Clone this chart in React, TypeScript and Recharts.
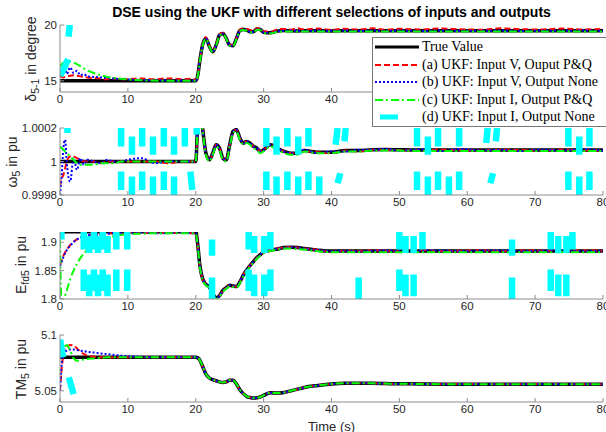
import React from 'react'
import { LineChart, Line, XAxis, YAxis } from 'recharts'

// shared time base (s)
const time = [
  0, 0.25, 0.5, 0.75, 1, 1.5, 2, 2.5, 3, 3.5, 4,
  5, 6, 7, 8, 9, 10, 12, 14, 16, 18, 19.5,
  20, 20.3, 20.6, 21, 21.5, 22, 22.5, 23, 23.5, 24, 24.5,
  25, 25.5, 26, 26.5, 27, 27.5, 28, 28.5, 29, 29.5, 30,
  31, 32, 33, 34, 35, 36, 38, 40, 42, 44, 46,
  48, 50, 53, 56, 59, 62, 65, 68, 71, 74, 77, 80,
]

const seriesNames = [
  'True Value',
  '(a) UKF: Input V, Ouput P&Q',
  '(b) UKF: Input V, Output None',
  '(c) UKF: Input I, Output P&Q',
  '(d) UKF: Input I, Output None',
]

const xTicks = [0, 10, 20, 30, 40, 50, 60, 70, 80]

// delta 5-1 (degree)
const deltaTrue = [
  15, 15, 15, 15, 15, 15, 15, 15, 15, 15, 15,
  15, 15, 15, 15, 15, 15, 15, 15, 15, 15, 15,
  15, 15.5, 16.8, 18.2, 18.8, 18.1, 17.6, 18.2, 19.1, 19.25, 18.8,
  18.2, 18.15, 18.8, 19.5, 19.6, 19.55, 19.4, 19.4, 19.65, 19.6, 19.35,
  19.3, 19.45, 19.5, 19.48, 19.47, 19.48, 19.48, 19.47, 19.48, 19.48, 19.48,
  19.48, 19.48, 19.48, 19.48, 19.48, 19.48, 19.48, 19.48, 19.48, 19.48, 19.48, 19.48,
]
const deltaA = [
  15.5, 15.35, 15.3, 15.35, 15.4, 15.45, 15.5, 15.45, 15.4, 15.35, 15.3,
  15.25, 15.2, 15.15, 15.2, 15.12, 15.18, 15.2, 15.15, 15.22, 15.15, 15.18,
  15.1, 15.5, 16.8, 18.2, 18.9, 18.15, 17.6, 18.25, 19.15, 19.3, 18.8,
  18.25, 18.2, 18.85, 19.55, 19.7, 19.65, 19.55, 19.5, 19.7, 19.65, 19.45,
  19.4, 19.6, 19.65, 19.58, 19.7, 19.6, 19.68, 19.58, 19.66, 19.6, 19.7,
  19.58, 19.66, 19.6, 19.68, 19.62, 19.58, 19.7, 19.62, 19.6, 19.68, 19.6, 19.65,
]
const deltaB = [
  15.6, 15.4, 15.8, 16.2, 15.6, 16.2, 15.7, 15.9, 15.5, 15.6, 15.4,
  15.35, 15.3, 15.25, 15.2, 15.15, 15.12, 15.08, 15.05, 15.04, 15.03, 15.02,
  15.02, 15.5, 16.8, 18.2, 18.8, 18.1, 17.6, 18.2, 19.1, 19.25, 18.8,
  18.2, 18.15, 18.8, 19.5, 19.6, 19.55, 19.4, 19.4, 19.62, 19.6, 19.35,
  19.3, 19.45, 19.48, 19.5, 19.48, 19.47, 19.5, 19.48, 19.5, 19.47, 19.5,
  19.48, 19.5, 19.47, 19.5, 19.48, 19.49, 19.5, 19.47, 19.5, 19.48, 19.5, 19.48,
]
const deltaC = [
  16.3, 16.5, 16.62, 16.7, 16.75, 16.75, 16.65, 16.5, 16.32, 16.12, 15.95,
  15.7, 15.5, 15.35, 15.25, 15.18, 15.12, 15.05, 15.02, 15.0, 15.0, 15.0,
  15.0, 15.45, 16.7, 18.1, 18.75, 18.1, 17.55, 18.15, 19.05, 19.2, 18.75,
  18.15, 18.1, 18.75, 19.45, 19.55, 19.5, 19.35, 19.35, 19.58, 19.55, 19.3,
  19.25, 19.38, 19.42, 19.42, 19.41, 19.42, 19.42, 19.41, 19.42, 19.42, 19.42,
  19.42, 19.42, 19.42, 19.42, 19.42, 19.42, 19.42, 19.42, 19.42, 19.42, 19.42, 19.42,
]
// (d) only shows where it crosses the axes: [t1, v1, t2, v2]
const deltaD = [
  [0.05, 15.45, 1.2, 16.95],
  [1.45, 20.0, 1.25, 18.95],
]

// omega 5 (pu)
const omegaTrue = [
  1, 1, 1, 1, 1, 1, 1, 1, 1, 1, 1,
  1, 1, 1, 1, 1, 1, 1, 1, 1, 1, 1,
  1, 1.00024, 1.00032, 1.0002, 1.00005, 1.00001, 1.00005, 1.0001, 1.00008, 1.00002, 1.00001,
  1.0001, 1.00018, 1.00019, 1.00014, 1.00011, 1.00012, 1.00011, 1.00009, 1.00008, 1.00006, 1.00007,
  1.0001, 1.00008, 1.00006, 1.00005, 1.00005, 1.000065, 1.000055, 1.000055, 1.000065, 1.000065, 1.00007,
  1.000072, 1.00007, 1.000068, 1.000068, 1.000068, 1.000068, 1.000068, 1.000068, 1.000068, 1.000068, 1.000068, 1.000068,
]
const omegaA = [
  0.99985, 0.9999, 0.99992, 0.99996, 1.0, 1.00003, 1.00003, 1.00002, 1.00001, 1.0, 1.0,
  1.0, 0.99999, 1.0, 1.0, 1.0, 1.0, 1.0, 1.0, 0.99999, 1.0, 1.0,
  1, 1.00024, 1.00032, 1.0002, 1.00005, 1.00001, 1.00005, 1.0001, 1.00008, 1.00002, 1.00001,
  1.0001, 1.00018, 1.00019, 1.00014, 1.00011, 1.00012, 1.00011, 1.00009, 1.00008, 1.00006, 1.00007,
  1.0001, 1.00008, 1.00006, 1.00005, 1.00005, 1.00006, 1.000055, 1.00005, 1.000065, 1.00006, 1.00007,
  1.00007, 1.000068, 1.000066, 1.00007, 1.000068, 1.000066, 1.00007, 1.000068, 1.000066, 1.00007, 1.000068, 1.000066,
]
const omegaB = [
  0.9998, 0.99992, 1.00008, 1.00013, 0.99999, 0.99988, 1.00002, 0.99995, 1.00002, 0.99998, 1.00001,
  1.0, 0.99999, 1.00001, 1.0, 1.0, 1.00001, 1.00002, 0.99999, 1.0, 1.0, 1.0,
  1, 1.00024, 1.00032, 1.0002, 1.00005, 1.00001, 1.00005, 1.0001, 1.00008, 1.00002, 1.00001,
  1.0001, 1.00018, 1.00019, 1.00014, 1.00011, 1.00012, 1.00011, 1.00009, 1.00008, 1.00006, 1.00007,
  1.0001, 1.00008, 1.00006, 1.00005, 1.00005, 1.00007, 1.00005, 1.00006, 1.00006, 1.00007, 1.00007,
  1.000075, 1.000065, 1.000072, 1.000063, 1.000074, 1.000066, 1.00007, 1.000062, 1.000072, 1.000066, 1.000073, 1.000065,
]
const omegaC = [
  1.00009, 1.00008, 1.00007, 1.00006, 1.00005, 1.00003, 1.00001, 0.99999, 0.99998, 0.99998, 0.99998,
  0.99998, 0.99999, 0.99999, 0.99999, 1.0, 1.0, 1.0, 1.0, 1.0, 1.0, 1.0,
  1, 1.00023, 1.00031, 1.00019, 1.00004, 1.0, 1.00004, 1.00009, 1.00007, 1.00001, 1.0,
  1.00009, 1.00017, 1.00018, 1.00013, 1.0001, 1.00011, 1.0001, 1.00008, 1.00007, 1.00005, 1.00006,
  1.00009, 1.00007, 1.00005, 1.00004, 1.00004, 1.00006, 1.00005, 1.00005, 1.00006, 1.00006, 1.000065,
  1.000066, 1.000065, 1.000063, 1.000063, 1.000063, 1.000063, 1.000063, 1.000063, 1.000063, 1.000063, 1.000063, 1.000063,
]
const omegaD = [
  [1.1, 1.0002, 1.1, 1.00017],
  [9.0, 1.0002, 9.0, 1.00009], [9.0, 0.99994, 9.0, 0.99983],
  [10.6, 1.00015, 10.6, 1.00004], [10.6, 0.99991, 10.6, 0.9998],
  [12.1, 1.0002, 12.1, 1.00009], [12.1, 0.99994, 12.1, 0.99983],
  [13.7, 1.00015, 13.7, 1.00004], [13.7, 0.99991, 13.7, 0.9998],
  [15.3, 1.0002, 15.3, 1.00009], [15.3, 0.99994, 15.3, 0.99983],
  [16.8, 1.00015, 16.8, 1.00004], [16.8, 0.99991, 16.8, 0.9998],
  [18.4, 1.0002, 18.4, 1.00009],
  [19.2, 0.99994, 19.5, 0.99983],
  [20.1, 1.0002, 20.2, 1.00016],
  [30.4, 1.0002, 30.4, 1.00009], [30.4, 0.99994, 30.4, 0.99983],
  [31.9, 1.00015, 31.9, 1.00004], [31.9, 0.99991, 31.9, 0.9998],
  [33.5, 1.0002, 33.5, 1.00009], [33.5, 0.99994, 33.5, 0.99983],
  [35.1, 1.00015, 35.1, 1.00004], [35.1, 0.99991, 35.1, 0.9998],
  [36.6, 1.0002, 36.6, 1.00009], [36.6, 0.99994, 36.6, 0.99983],
  [38.2, 0.99991, 38.2, 0.9998],
  [40.9, 1.0002, 40.6, 1.0001], [41.3, 0.99993, 40.9, 0.99987],
  [42.1, 1.0002, 41.9, 1.00012],
  [52.6, 1.0002, 52.6, 1.00009], [52.6, 0.99994, 52.6, 0.99983],
  [54.2, 1.00015, 54.2, 1.00004], [54.2, 0.99991, 54.2, 0.9998],
  [55.7, 1.0002, 55.7, 1.00009], [55.7, 0.99994, 55.7, 0.99983],
  [57.3, 0.99991, 57.3, 0.9998],
  [58.8, 1.0002, 58.8, 1.00009], [58.8, 0.99994, 58.8, 0.99983],
  [63.0, 1.0002, 62.8, 1.00011], [63.8, 0.99993, 63.4, 0.99987],
  [64.4, 1.0002, 64.2, 1.00012],
  [74.9, 1.0002, 74.9, 1.00009], [74.9, 0.99994, 74.9, 0.99983],
  [76.5, 1.00015, 76.5, 1.00004], [76.5, 0.99991, 76.5, 0.9998],
  [78.0, 1.0002, 78.0, 1.00009], [78.0, 0.99994, 78.0, 0.99983],
]

// Efd5 (pu)
const efdTrue = [
  1.9185, 1.9185, 1.9185, 1.9185, 1.9185, 1.9185, 1.9185, 1.9185, 1.9185, 1.9185, 1.9185,
  1.9185, 1.9185, 1.9185, 1.9185, 1.9185, 1.9185, 1.9185, 1.9185, 1.9185, 1.9185, 1.9185,
  1.9185, 1.895, 1.86, 1.836, 1.826, 1.821, 1.81, 1.802, 1.806, 1.815, 1.82,
  1.824, 1.823, 1.822, 1.83, 1.842, 1.851, 1.859, 1.866, 1.873, 1.878, 1.883,
  1.886, 1.888, 1.8905, 1.891, 1.8905, 1.889, 1.886, 1.8845, 1.8845, 1.8845, 1.8845,
  1.8845, 1.8845, 1.8845, 1.8845, 1.8845, 1.8845, 1.8845, 1.8845, 1.8845, 1.8845, 1.8845, 1.8845,
]
const efdA = [
  1.86, 1.868, 1.876, 1.882, 1.887, 1.895, 1.901, 1.905, 1.908, 1.91, 1.912,
  1.913, 1.914, 1.915, 1.916, 1.915, 1.917, 1.916, 1.917, 1.916, 1.917, 1.916,
  1.916, 1.894, 1.859, 1.835, 1.826, 1.82, 1.81, 1.801, 1.806, 1.815, 1.82,
  1.824, 1.823, 1.822, 1.83, 1.843, 1.852, 1.859, 1.866, 1.873, 1.878, 1.883,
  1.887, 1.889, 1.891, 1.8915, 1.8905, 1.889, 1.8865, 1.8835, 1.885, 1.8845, 1.8855,
  1.885, 1.8845, 1.8855, 1.8845, 1.885, 1.8855, 1.8845, 1.8855, 1.885, 1.8845, 1.8855, 1.885,
]
const efdB = [
  1.858, 1.866, 1.874, 1.881, 1.886, 1.894, 1.9, 1.905, 1.908, 1.91, 1.912,
  1.913, 1.914, 1.915, 1.916, 1.916, 1.915, 1.917, 1.916, 1.916, 1.917, 1.916,
  1.916, 1.895, 1.86, 1.836, 1.826, 1.821, 1.81, 1.802, 1.806, 1.815, 1.82,
  1.824, 1.823, 1.822, 1.83, 1.842, 1.851, 1.859, 1.866, 1.873, 1.878, 1.884,
  1.8865, 1.8885, 1.89, 1.891, 1.8905, 1.8885, 1.886, 1.8845, 1.885, 1.884, 1.885,
  1.8855, 1.8845, 1.885, 1.8855, 1.8845, 1.885, 1.8855, 1.8845, 1.885, 1.8855, 1.8845, 1.885,
]
const efdC = [
  1.905, 1.79, 1.795, 1.806, 1.815, 1.835, 1.85, 1.862, 1.872, 1.88, 1.886,
  1.896, 1.903, 1.908, 1.911, 1.913, 1.914, 1.915, 1.916, 1.916, 1.916, 1.916,
  1.915, 1.893, 1.857, 1.834, 1.824, 1.819, 1.808, 1.8, 1.804, 1.813, 1.818,
  1.822, 1.821, 1.82, 1.828, 1.84, 1.849, 1.857, 1.864, 1.871, 1.876, 1.881,
  1.885, 1.887, 1.889, 1.889, 1.888, 1.887, 1.884, 1.8825, 1.8825, 1.8825, 1.8825,
  1.8825, 1.8825, 1.8825, 1.8825, 1.8825, 1.8825, 1.8825, 1.8825, 1.8825, 1.8825, 1.8825, 1.8825,
]
const efdD = [
  [0.2, 1.918, 0.2, 1.905],
  [3.5, 1.918, 3.5, 1.887], [3.5, 1.852, 3.5, 1.814],
  [4.3, 1.911, 4.3, 1.881], [4.3, 1.843, 4.3, 1.805],
  [5.0, 1.918, 5.0, 1.887], [5.0, 1.852, 5.0, 1.814],
  [5.6, 1.911, 5.6, 1.881], [5.6, 1.843, 5.6, 1.805],
  [6.3, 1.918, 6.3, 1.887], [6.3, 1.852, 6.3, 1.814],
  [7.0, 1.911, 7.0, 1.881], [7.0, 1.843, 7.0, 1.805],
  [8.3, 1.918, 8.3, 1.887], [8.3, 1.852, 8.3, 1.814],
  [9.9, 1.918, 9.9, 1.887], [9.9, 1.852, 9.9, 1.814],
  [22.4, 1.905, 22.4, 1.876], [22.4, 1.838, 22.4, 1.8],
  [27.8, 1.918, 27.8, 1.887], [27.8, 1.852, 27.8, 1.814],
  [28.6, 1.911, 28.6, 1.881], [28.6, 1.843, 28.6, 1.805],
  [30.1, 1.911, 30.1, 1.881], [30.1, 1.843, 30.1, 1.805],
  [31.0, 1.918, 31.0, 1.887], [31.0, 1.852, 31.0, 1.814],
  [44.0, 1.838, 44.0, 1.8],
  [50.0, 1.918, 50.0, 1.887], [50.0, 1.852, 50.0, 1.814],
  [50.9, 1.911, 50.9, 1.881], [50.9, 1.843, 50.9, 1.805],
  [52.1, 1.911, 52.1, 1.881], [52.1, 1.843, 52.1, 1.805],
  [53.4, 1.918, 53.4, 1.887],
  [66.6, 1.905, 66.6, 1.876], [66.6, 1.838, 66.6, 1.8],
  [72.3, 1.918, 72.3, 1.887], [72.3, 1.852, 72.3, 1.814],
  [73.4, 1.911, 73.4, 1.881], [73.4, 1.843, 73.4, 1.805],
  [74.6, 1.911, 74.6, 1.881], [74.6, 1.843, 74.6, 1.805],
  [75.5, 1.918, 75.5, 1.887],
]

// TM5 (pu)
const tmTrue = [
  5.08, 5.08, 5.08, 5.08, 5.08, 5.08, 5.08, 5.08, 5.08, 5.08, 5.08,
  5.08, 5.08, 5.08, 5.08, 5.08, 5.08, 5.08, 5.08, 5.08, 5.08, 5.08,
  5.08, 5.0795, 5.0775, 5.072, 5.065, 5.0615, 5.06, 5.059, 5.058, 5.0575, 5.058,
  5.0595, 5.0595, 5.056, 5.051, 5.0475, 5.045, 5.044, 5.0435, 5.0437, 5.0445, 5.046,
  5.0482, 5.048, 5.0485, 5.05, 5.0515, 5.053, 5.0548, 5.0562, 5.0568, 5.0568, 5.0567,
  5.0565, 5.0563, 5.0562, 5.056, 5.056, 5.056, 5.056, 5.056, 5.056, 5.056, 5.056, 5.056,
]
const tmA = [
  5.05, 5.07, 5.082, 5.087, 5.089, 5.091, 5.0905, 5.088, 5.085, 5.083, 5.0815,
  5.0805, 5.08, 5.08, 5.0798, 5.08, 5.08, 5.0802, 5.08, 5.08, 5.08, 5.08,
  5.08, 5.0795, 5.0775, 5.072, 5.065, 5.0615, 5.06, 5.059, 5.058, 5.0575, 5.058,
  5.0595, 5.0595, 5.056, 5.051, 5.0475, 5.045, 5.044, 5.0435, 5.0437, 5.0445, 5.046,
  5.0482, 5.048, 5.0485, 5.05, 5.0515, 5.053, 5.0548, 5.0562, 5.0568, 5.0568, 5.0567,
  5.0565, 5.0562, 5.0563, 5.056, 5.0561, 5.056, 5.0559, 5.056, 5.0561, 5.056, 5.0559, 5.056,
]
const tmB = [
  5.05, 5.074, 5.082, 5.085, 5.086, 5.087, 5.087, 5.0865, 5.086, 5.0855, 5.085,
  5.0843, 5.0835, 5.0828, 5.0822, 5.0815, 5.081, 5.0805, 5.08, 5.08, 5.08, 5.08,
  5.08, 5.0795, 5.0775, 5.072, 5.065, 5.0615, 5.06, 5.059, 5.058, 5.0575, 5.058,
  5.0595, 5.0595, 5.056, 5.051, 5.0475, 5.045, 5.044, 5.0435, 5.0437, 5.0445, 5.046,
  5.0482, 5.048, 5.0485, 5.05, 5.0515, 5.053, 5.0548, 5.0562, 5.0568, 5.0568, 5.0567,
  5.0565, 5.0563, 5.0562, 5.056, 5.056, 5.056, 5.056, 5.056, 5.056, 5.056, 5.056, 5.056,
]
const tmC = [
  5.09, 5.083, 5.086, 5.09, 5.091, 5.086, 5.079, 5.077, 5.0775, 5.078, 5.0785,
  5.079, 5.0795, 5.08, 5.08, 5.08, 5.08, 5.08, 5.08, 5.08, 5.08, 5.08,
  5.08, 5.0795, 5.0775, 5.072, 5.065, 5.0615, 5.06, 5.059, 5.058, 5.0575, 5.058,
  5.0595, 5.0595, 5.056, 5.051, 5.0475, 5.045, 5.044, 5.0435, 5.0437, 5.0445, 5.046,
  5.0482, 5.048, 5.0485, 5.05, 5.0515, 5.053, 5.0548, 5.0562, 5.0568, 5.0568, 5.0567,
  5.0565, 5.0563, 5.0562, 5.056, 5.056, 5.056, 5.056, 5.056, 5.056, 5.056, 5.056, 5.056,
]
const tmD = [
  [0.0, 5.096, 0.45, 5.08],
  [1.3, 5.062, 2.0, 5.047],
]

const AXIS = '#8c8c8c'
const TEXT = '#262626'
const SANS = '"Liberation Sans", Arial, sans-serif'
const SERIF = '"Liberation Serif", "Times New Roman", serif'

const styles = [
  { stroke: '#000000', strokeWidth: 3.5 },
  { stroke: '#ff0000', strokeWidth: 2, strokeDasharray: '6 3' },
  { stroke: '#0000ff', strokeWidth: 2, strokeDasharray: '2 2' },
  { stroke: '#00ff00', strokeWidth: 2, strokeDasharray: '8 3 2 3' },
  { stroke: '#00ffff', strokeWidth: 6.5 },
]

const segPoints = (segs: number[][]) =>
  segs.flatMap(([t1, v1, t2, v2]) => [
    { t: t1, v: v1 },
    { t: t2, v: v2 },
    { t: t2, v: null },
  ])

const noLabel = () => <g />

function Panel({ top, plotTop, series, cyan, domain, yTicks, xLabel, xLabelMax = 80 }: any) {
  const rows = time.map((t, i) => ({ t, s0: series[0][i], s1: series[1][i], s2: series[2][i], s3: series[3][i] }))
  const axisH = xLabel ? 30 : 20
  const tick = { fontSize: 11.5, fill: TEXT, fontFamily: SANS }
  return (
    <div style={{ position: 'absolute', left: 0, top }}>
      <LineChart width={606} height={plotTop + 67 + axisH} data={rows} margin={{ top: plotTop, right: 3, bottom: 0, left: 0 }}>
        <XAxis
          dataKey="t"
          type="number"
          domain={[0, 80]}
          ticks={xTicks}
          interval={0}
          allowDataOverflow
          stroke={AXIS}
          tick={tick}
          tickFormatter={(v: number) => (v > xLabelMax ? '' : String(v))}
          tickSize={-4}
          tickMargin={7}
          height={axisH}
          label={xLabel ? { value: xLabel, position: 'insideBottom', offset: 1, fill: TEXT, fontSize: 13, fontFamily: SANS } : undefined}
        />
        <XAxis xAxisId="top" orientation="top" dataKey="t" type="number" domain={[0, 80]} ticks={xTicks} interval={0} stroke={AXIS} tick={noLabel} tickSize={-4} height={0} />
        <YAxis type="number" domain={domain} ticks={yTicks} interval={0} allowDataOverflow stroke={AXIS} tick={tick} tickSize={-4} tickMargin={7} width={60} />
        <YAxis yAxisId="right" orientation="right" type="number" domain={domain} ticks={yTicks} interval={0} allowDataOverflow stroke={AXIS} tick={noLabel} tickSize={-4} width={0} />
        {[0, 1, 2, 3].map((k) => (
          <Line key={k} type="monotone" dataKey={`s${k}`} {...styles[k]} dot={false} activeDot={false} isAnimationActive={false} />
        ))}
        <Line data={segPoints(cyan)} type="linear" dataKey="v" {...styles[4]} strokeLinecap="butt" dot={false} activeDot={false} isAnimationActive={false} />
      </LineChart>
    </div>
  )
}

function YLabel({ x, y, children }: any) {
  return (
    <div
      style={{
        position: 'absolute',
        left: x,
        top: y,
        transform: 'translate(-50%, -50%) rotate(-90deg)',
        whiteSpace: 'nowrap',
        fontFamily: SANS,
        fontSize: 14,
        color: TEXT,
        lineHeight: '16px',
      }}
    >
      {children}
    </div>
  )
}

const subStyle = { fontSize: 10.5, verticalAlign: '-3px', lineHeight: 0 }

function Legend() {
  return (
    <div
      style={{
        position: 'absolute',
        left: 372,
        top: 37,
        width: 240,
        height: 90,
        boxSizing: 'border-box',
        border: '1px solid #777',
        background: '#fff',
      }}
    >
      {seriesNames.map((name, i) => (
        <div key={name} style={{ position: 'absolute', left: 0, top: i * 17.5, height: 18, display: 'flex', alignItems: 'center' }}>
          <svg width={49} height={18}>
            {i === 4 ? (
              <line x1={7} x2={25} y1={9} y2={9} stroke={styles[4].stroke} strokeWidth={5} />
            ) : (
              <line x1={2} x2={46} y1={9} y2={9} {...styles[i]} strokeWidth={i === 0 ? 3 : 2} />
            )}
          </svg>
          <span style={{ fontFamily: SERIF, fontSize: 14, whiteSpace: 'nowrap', color: '#000' }}>{name}</span>
        </div>
      ))}
    </div>
  )
}

export default function App() {
  return (
    <div style={{ position: 'absolute', left: 0, top: 0, width: 606, height: 432, overflow: 'hidden', background: '#fff' }}>
      <div style={{ position: 'absolute', left: 60, top: 4, width: 543, textAlign: 'center', fontFamily: SANS, fontWeight: 'bold', fontSize: 14, lineHeight: '16px', color: '#000' }}>
        DSE using the UKF with different selections of inputs and outputs
      </div>
      <Panel top={0} plotTop={25} series={[deltaTrue, deltaA, deltaB, deltaC]} cyan={deltaD} domain={[14, 20]} yTicks={[15, 20]} xLabelMax={40} />
      <Panel top={102} plotTop={26} series={[omegaTrue, omegaA, omegaB, omegaC]} cyan={omegaD} domain={[0.9998, 1.0002]} yTicks={[0.9998, 1, 1.0002]} />
      <Panel top={206} plotTop={26} series={[efdTrue, efdA, efdB, efdC]} cyan={efdD} domain={[1.8, 1.918]} yTicks={[1.8, 1.85, 1.9]} />
      <Panel top={309} plotTop={26} series={[tmTrue, tmA, tmB, tmC]} cyan={tmD} domain={[5.04, 5.1]} yTicks={[5.05, 5.1]} xLabel="Time (s)" />
      <YLabel x={31} y={59}>
        δ<sub style={subStyle}>5-1</sub> in degree
      </YLabel>
      <YLabel x={12} y={162}>
        ω<sub style={subStyle}>5</sub> in pu
      </YLabel>
      <YLabel x={21} y={265}>
        E<sub style={subStyle}>fd5</sub> in pu
      </YLabel>
      <YLabel x={21} y={369}>
        TM<sub style={subStyle}>5</sub> in pu
      </YLabel>
      <Legend />
    </div>
  )
}
